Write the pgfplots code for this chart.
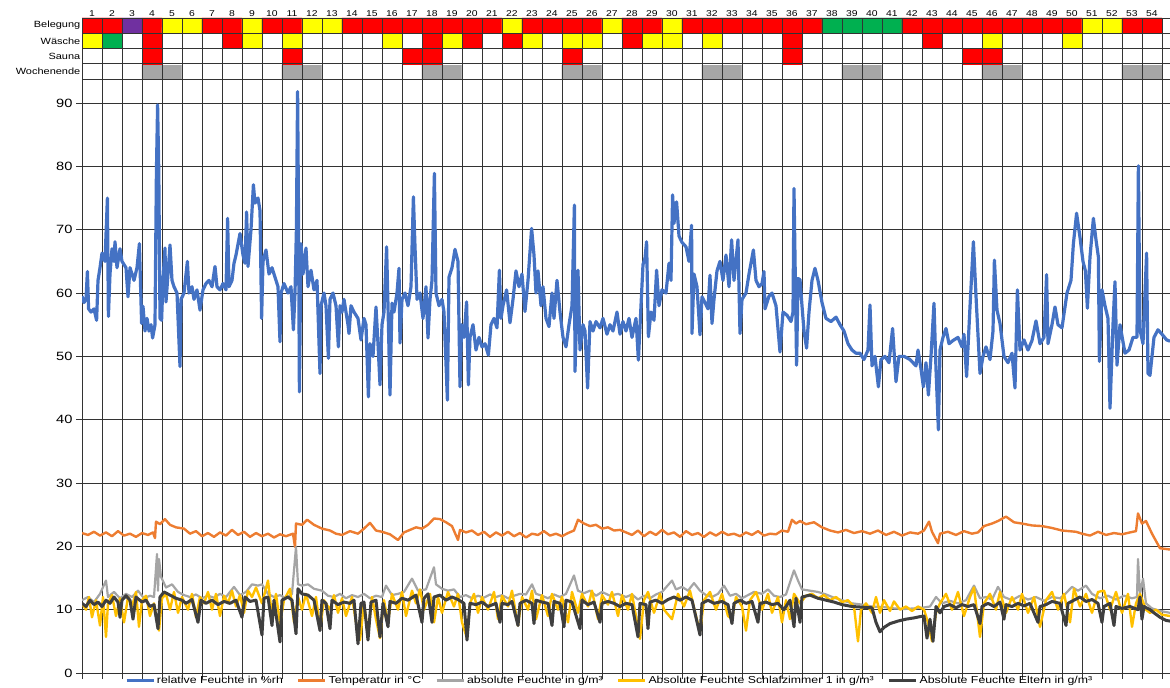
\documentclass[border=0pt]{standalone}
\usepackage{fontspec}
\setmainfont{Liberation Sans}[FakeStretch=1.22]
\usepackage{pgfplots}
\pgfplotsset{compat=1.18}

\definecolor{cBlue}{HTML}{4472C4}
\definecolor{cOrange}{HTML}{ED7D31}
\definecolor{cGrey}{HTML}{A5A5A5}
\definecolor{cYellow}{HTML}{FFC000}
\definecolor{cDark}{HTML}{3F3F3F}
\definecolor{gridc}{HTML}{333333}

\begin{document}
\begin{tikzpicture}
\path[use as bounding box] (0pt,0pt) rectangle (1170pt,688pt);

% ---------- status table ----------
% codes: 0 white, 1 red, 2 yellow, 3 green, 4 purple, 5 grey
\begin{axis}[
  at={(82pt,609pt)}, anchor=south west,
  width=1088pt, height=61pt, scale only axis,
  xmin=0, xmax=54.4, ymin=0, ymax=4,
  axis on top,
  colormap={status}{rgb255=(255,255,255) rgb255=(255,0,0) rgb255=(255,255,0) rgb255=(0,176,80) rgb255=(112,48,160) rgb255=(166,166,166)},
  colormap access=direct,
  xtick={0.5,1.5,...,53.5},
  xticklabel={\pgfmathparse{int(\tick+0.5)}\pgfmathresult},
  xticklabel pos=upper,
  minor xtick={0,1,...,54},
  ytick={0.5,1.5,2.5,3.5},
  yticklabels={Wochenende,Sauna,Wäsche,Belegung},
  minor ytick={0,1,2,3,4},
  xminorgrids, yminorgrids,
  minor grid style={gridc, line width=0.9pt},
  major tick length=0pt, minor tick length=0pt,
  axis line style={gridc, line width=0.9pt},
  x tick label style={font=\fontsize{8.5}{9}\selectfont, inner sep=1.5pt},
  y tick label style={font=\fontsize{9}{10}\selectfont, inner sep=1.5pt},
]
\addplot[matrix plot*, mesh/cols=54, point meta=explicit] table[row sep=\\, x=x, y=y, meta=c] {
x y c\\
0.5 0.5 0\\ 1.5 0.5 0\\ 2.5 0.5 0\\ 3.5 0.5 5\\ 4.5 0.5 5\\ 5.5 0.5 0\\ 6.5 0.5 0\\ 7.5 0.5 0\\ 8.5 0.5 0\\
9.5 0.5 0\\ 10.5 0.5 5\\ 11.5 0.5 5\\ 12.5 0.5 0\\ 13.5 0.5 0\\ 14.5 0.5 0\\ 15.5 0.5 0\\ 16.5 0.5 0\\ 17.5 0.5 5\\
18.5 0.5 5\\ 19.5 0.5 0\\ 20.5 0.5 0\\ 21.5 0.5 0\\ 22.5 0.5 0\\ 23.5 0.5 0\\ 24.5 0.5 5\\ 25.5 0.5 5\\ 26.5 0.5 0\\
27.5 0.5 0\\ 28.5 0.5 0\\ 29.5 0.5 0\\ 30.5 0.5 0\\ 31.5 0.5 5\\ 32.5 0.5 5\\ 33.5 0.5 0\\ 34.5 0.5 0\\ 35.5 0.5 0\\
36.5 0.5 0\\ 37.5 0.5 0\\ 38.5 0.5 5\\ 39.5 0.5 5\\ 40.5 0.5 0\\ 41.5 0.5 0\\ 42.5 0.5 0\\ 43.5 0.5 0\\ 44.5 0.5 0\\
45.5 0.5 5\\ 46.5 0.5 5\\ 47.5 0.5 0\\ 48.5 0.5 0\\ 49.5 0.5 0\\ 50.5 0.5 0\\ 51.5 0.5 0\\ 52.5 0.5 5\\ 53.5 0.5 5\\
0.5 1.5 0\\ 1.5 1.5 0\\ 2.5 1.5 0\\ 3.5 1.5 1\\ 4.5 1.5 0\\ 5.5 1.5 0\\ 6.5 1.5 0\\ 7.5 1.5 0\\ 8.5 1.5 0\\
9.5 1.5 0\\ 10.5 1.5 1\\ 11.5 1.5 0\\ 12.5 1.5 0\\ 13.5 1.5 0\\ 14.5 1.5 0\\ 15.5 1.5 0\\ 16.5 1.5 1\\ 17.5 1.5 1\\
18.5 1.5 0\\ 19.5 1.5 0\\ 20.5 1.5 0\\ 21.5 1.5 0\\ 22.5 1.5 0\\ 23.5 1.5 0\\ 24.5 1.5 1\\ 25.5 1.5 0\\ 26.5 1.5 0\\
27.5 1.5 0\\ 28.5 1.5 0\\ 29.5 1.5 0\\ 30.5 1.5 0\\ 31.5 1.5 0\\ 32.5 1.5 0\\ 33.5 1.5 0\\ 34.5 1.5 0\\ 35.5 1.5 1\\
36.5 1.5 0\\ 37.5 1.5 0\\ 38.5 1.5 0\\ 39.5 1.5 0\\ 40.5 1.5 0\\ 41.5 1.5 0\\ 42.5 1.5 0\\ 43.5 1.5 0\\ 44.5 1.5 1\\
45.5 1.5 1\\ 46.5 1.5 0\\ 47.5 1.5 0\\ 48.5 1.5 0\\ 49.5 1.5 0\\ 50.5 1.5 0\\ 51.5 1.5 0\\ 52.5 1.5 0\\ 53.5 1.5 0\\
0.5 2.5 2\\ 1.5 2.5 3\\ 2.5 2.5 0\\ 3.5 2.5 1\\ 4.5 2.5 0\\ 5.5 2.5 0\\ 6.5 2.5 0\\ 7.5 2.5 1\\ 8.5 2.5 2\\
9.5 2.5 0\\ 10.5 2.5 2\\ 11.5 2.5 0\\ 12.5 2.5 0\\ 13.5 2.5 0\\ 14.5 2.5 0\\ 15.5 2.5 2\\ 16.5 2.5 0\\ 17.5 2.5 1\\
18.5 2.5 2\\ 19.5 2.5 1\\ 20.5 2.5 0\\ 21.5 2.5 1\\ 22.5 2.5 2\\ 23.5 2.5 0\\ 24.5 2.5 2\\ 25.5 2.5 2\\ 26.5 2.5 0\\
27.5 2.5 1\\ 28.5 2.5 2\\ 29.5 2.5 2\\ 30.5 2.5 0\\ 31.5 2.5 2\\ 32.5 2.5 0\\ 33.5 2.5 0\\ 34.5 2.5 0\\ 35.5 2.5 1\\
36.5 2.5 0\\ 37.5 2.5 0\\ 38.5 2.5 0\\ 39.5 2.5 0\\ 40.5 2.5 0\\ 41.5 2.5 0\\ 42.5 2.5 1\\ 43.5 2.5 0\\ 44.5 2.5 0\\
45.5 2.5 2\\ 46.5 2.5 0\\ 47.5 2.5 0\\ 48.5 2.5 0\\ 49.5 2.5 2\\ 50.5 2.5 0\\ 51.5 2.5 0\\ 52.5 2.5 0\\ 53.5 2.5 0\\
0.5 3.5 1\\ 1.5 3.5 1\\ 2.5 3.5 4\\ 3.5 3.5 1\\ 4.5 3.5 2\\ 5.5 3.5 2\\ 6.5 3.5 1\\ 7.5 3.5 1\\ 8.5 3.5 2\\
9.5 3.5 1\\ 10.5 3.5 1\\ 11.5 3.5 2\\ 12.5 3.5 2\\ 13.5 3.5 1\\ 14.5 3.5 1\\ 15.5 3.5 1\\ 16.5 3.5 1\\ 17.5 3.5 1\\
18.5 3.5 1\\ 19.5 3.5 1\\ 20.5 3.5 1\\ 21.5 3.5 2\\ 22.5 3.5 1\\ 23.5 3.5 1\\ 24.5 3.5 1\\ 25.5 3.5 1\\ 26.5 3.5 2\\
27.5 3.5 1\\ 28.5 3.5 1\\ 29.5 3.5 2\\ 30.5 3.5 1\\ 31.5 3.5 1\\ 32.5 3.5 1\\ 33.5 3.5 1\\ 34.5 3.5 1\\ 35.5 3.5 1\\
36.5 3.5 1\\ 37.5 3.5 3\\ 38.5 3.5 3\\ 39.5 3.5 3\\ 40.5 3.5 3\\ 41.5 3.5 1\\ 42.5 3.5 1\\ 43.5 3.5 1\\ 44.5 3.5 1\\
45.5 3.5 1\\ 46.5 3.5 1\\ 47.5 3.5 1\\ 48.5 3.5 1\\ 49.5 3.5 1\\ 50.5 3.5 2\\ 51.5 3.5 2\\ 52.5 3.5 1\\ 53.5 3.5 1\\
};
\end{axis}

% ---------- main chart ----------
\begin{axis}[
  at={(82pt,15pt)}, anchor=south west,
  width=1088pt, height=594pt, scale only axis,
  xmin=0, xmax=54.4, ymin=0, ymax=93.8,
  axis x line*=bottom, axis y line*=left,
  axis line style={gridc, line width=0.9pt},
  xtick={0,1,...,54}, xticklabels={},
  ytick={0,10,...,90},
  grid=major, major grid style={gridc, line width=0.9pt},
  tick align=outside, major tick length=6pt,
  tick style={gridc, line width=0.9pt},
  /pgf/number format/assume math mode=true,
  y tick label style={font=\fontsize{12}{12}\selectfont},
  legend columns=5,
  legend style={at={(0.485,0)}, anchor=north, yshift=-1pt, draw=none, fill=none,
    font=\fontsize{10.1}{11}\selectfont, inner sep=0pt,
    /tikz/every even column/.append style={column sep=12pt}},
  legend image code/.code={\draw[#1, line width=2.8pt] (0pt,0pt) -- (27pt,0pt);},
  line join=round,
]
% relative humidity
\addplot[cBlue, line width=3.2pt] coordinates {
(0,59.5) (0.1,58.5) (0.2,59) (0.27,63.4) (0.33,57.5) (0.45,57) (0.6,57.5) (0.73,55.7) (0.8,62) (0.9,64) (1.0,66.3) (1.15,65) (1.27,75) (1.32,56.3) (1.4,63) (1.5,67) (1.6,65) (1.65,68.1) (1.75,64) (1.9,67) (2.0,65) (2.2,64) (2.3,59.4) (2.4,64) (2.5,63) (2.6,62) (2.75,64) (2.87,67.8) (2.98,55.2) (3.05,57.9) (3.15,54) (3.25,56) (3.35,54) (3.45,55) (3.53,52.9) (3.65,55) (3.72,78.9) (3.78,89.7) (3.84,79) (3.9,56) (3.98,55.7) (4.05,62) (4.15,67.1) (4.2,58.6) (4.3,63) (4.4,67.6) (4.5,62) (4.6,61) (4.75,60) (4.9,48.4) (4.95,59) (5.1,60) (5.27,65) (5.35,60) (5.5,61) (5.6,59) (5.75,60.5) (5.9,57.3) (6.05,60.5) (6.2,61.5) (6.35,62) (6.5,61) (6.65,64.2) (6.75,61) (6.9,60.5) (7.05,61.5) (7.2,60.5) (7.28,71.8) (7.35,61) (7.5,62) (7.6,64.7) (7.7,66) (7.9,69.4) (8.05,66) (8.15,64.7) (8.23,72.8) (8.3,64.2) (8.45,70) (8.57,77.1) (8.65,74.2) (8.8,75) (8.9,73) (8.98,56) (9.05,65) (9.2,66.8) (9.35,63) (9.5,64) (9.65,62.5) (9.8,61) (9.9,52.3) (9.95,60) (10.1,61.5) (10.3,60) (10.45,61) (10.57,54.2) (10.65,60) (10.72,70) (10.78,91.8) (10.82,75) (10.87,44.4) (10.95,67.8) (11.05,63) (11.2,67.1) (11.3,61) (11.45,63.6) (11.6,60.5) (11.75,62) (11.9,47.3) (11.95,58) (12.1,60) (12.2,58) (12.32,49.7) (12.4,59) (12.55,60) (12.7,58) (12.82,51.5) (12.9,58) (13.0,57) (13.1,59) (13.3,55) (13.35,53.6) (13.45,58) (13.6,57) (13.8,56) (13.95,52.6) (14.1,56) (14.2,55) (14.32,43.6) (14.4,52) (14.55,50) (14.7,57.8) (14.8,52) (14.9,45.5) (15.0,55) (15.1,57) (15.23,67.3) (15.3,58) (15.4,43.9) (15.5,58.4) (15.6,57) (15.75,60) (15.85,63.9) (15.9,52.1) (16.0,59) (16.15,60) (16.3,58) (16.45,61) (16.57,75.2) (16.65,67.3) (16.75,59) (16.9,60) (17.05,56) (17.2,61) (17.3,52.9) (17.4,59) (17.5,62) (17.62,78.9) (17.7,60) (17.85,58) (18.0,59) (18.1,57) (18.27,43.1) (18.35,62.5) (18.5,64) (18.65,66.9) (18.8,65) (18.9,45.2) (18.98,55) (19.1,53) (19.23,58.6) (19.32,45.5) (19.4,53) (19.55,55) (19.7,51) (19.85,53) (20.0,51.5) (20.15,52) (20.32,50.2) (20.45,55) (20.6,56) (20.75,54.5) (20.87,63.6) (20.95,56) (21.05,58) (21.23,60.5) (21.4,55.3) (21.55,59) (21.7,63.5) (21.85,61) (22.0,63) (22.15,57.1) (22.3,62) (22.48,70.2) (22.6,66) (22.7,60) (22.8,63.5) (22.95,58) (23.05,61) (23.2,56) (23.35,54.7) (23.5,60) (23.6,56) (23.75,62) (23.9,57) (24.05,53) (24.2,51.5) (24.35,55) (24.5,58) (24.62,73.9) (24.65,47.6) (24.8,63.6) (24.9,51) (25.05,55) (25.15,54) (25.28,45) (25.4,55.5) (25.55,54) (25.7,55.5) (25.9,54.5) (26.05,56) (26.25,53.5) (26.4,55) (26.55,54) (26.75,57) (26.9,53.5) (27.05,55.5) (27.2,54) (27.35,56) (27.5,53) (27.7,56) (27.82,49.4) (27.95,58) (28.05,64.5) (28.15,65.5) (28.23,68.1) (28.32,53.1) (28.45,57) (28.6,55.7) (28.73,63.6) (28.85,58) (29.0,60.5) (29.2,60) (29.35,64.7) (29.45,62) (29.53,75.5) (29.6,71) (29.73,74.4) (29.85,69) (30.0,68) (30.2,67.3) (30.35,65) (30.48,70.7) (30.5,53.6) (30.6,63) (30.75,61) (30.9,53.4) (31.0,59.4) (31.15,58.5) (31.3,57.5) (31.4,62.8) (31.5,55.2) (31.6,59) (31.75,63.5) (31.9,65) (32.05,62) (32.2,66) (32.35,61) (32.48,68.4) (32.6,62) (32.8,68.4) (32.9,53.6) (33.0,59) (33.2,60) (33.35,63) (33.57,66.8) (33.7,62) (33.85,61) (34.0,61.5) (34.1,63.4) (34.15,57.5) (34.35,59.5) (34.5,60) (34.7,58) (34.9,50.7) (35.05,57) (35.25,56.5) (35.45,55.5) (35.55,57) (35.6,76.5) (35.73,48.6) (35.8,62.3) (35.9,62.1) (36.0,58) (36.1,54) (36.23,51.3) (36.35,57) (36.5,62) (36.65,63.9) (36.8,62) (37.0,58.5) (37.2,56) (37.45,55.5) (37.7,56.2) (37.9,55) (38.1,54) (38.3,52) (38.5,51) (38.7,50.5) (38.9,50.5) (39.1,49.5) (39.3,51) (39.4,58.1) (39.5,48.5) (39.65,50) (39.82,45.2) (39.95,49.5) (40.15,50) (40.35,49) (40.53,54.4) (40.7,46) (40.85,50) (41.1,50) (41.4,49.5) (41.7,48.5) (41.8,51) (41.95,48) (42.07,45.2) (42.2,49) (42.32,43.9) (42.45,50) (42.6,58.4) (42.7,48) (42.82,38.4) (42.9,51) (43.05,53) (43.2,54.4) (43.35,52) (43.55,52.5) (43.8,53) (44.0,51.5) (44.1,53.5) (44.23,46.8) (44.4,57.8) (44.57,68.1) (44.72,58.3) (44.9,47.3) (45.05,50) (45.2,51.5) (45.4,49.5) (45.55,54) (45.62,65.2) (45.75,57.3) (45.9,55.2) (46.1,50) (46.3,49) (46.5,50.5) (46.65,45) (46.77,60.5) (46.9,51) (47.1,52.6) (47.3,51) (47.5,52.5) (47.7,55.6) (47.9,52) (48.1,53) (48.23,62.9) (48.3,52) (48.5,55) (48.65,57.8) (48.8,55) (49.0,54.5) (49.25,60) (49.45,62) (49.57,67.8) (49.73,72.6) (49.9,68.8) (50.05,65) (50.17,63.5) (50.27,57.6) (50.4,65.7) (50.57,71.8) (50.7,68.4) (50.82,65.7) (50.87,49.2) (51.0,60.5) (51.15,58) (51.3,56) (51.4,41.8) (51.55,55) (51.65,61.8) (51.75,48.6) (51.9,55) (52.15,50.5) (52.35,51) (52.55,53) (52.75,53) (52.82,80.1) (52.9,54.2) (53.05,52) (53.23,66.3) (53.3,47.3) (53.4,47) (53.6,53) (53.8,54.2) (54.0,53.5) (54.23,52.6) (54.4,52.4)
};
\addlegendentry{relative Feuchte in \%rh}
% temperature
\addplot[cOrange, line width=2.4pt] coordinates {
(0,22.1) (0.3,21.8) (0.6,22.3) (0.9,21.7) (1.2,22.2) (1.5,21.6) (1.8,22.4) (2.1,21.7) (2.4,22) (2.7,21.5) (3.0,22.1) (3.3,21.8) (3.55,22.2) (3.65,21.3) (3.7,23.9) (3.9,23.5) (4.15,24.3) (4.4,23.4) (4.7,23) (5.1,22.8) (5.4,22) (5.7,22.4) (6.0,21.6) (6.3,22.1) (6.6,21.5) (6.9,22.2) (7.2,21.7) (7.5,22.6) (7.8,21.8) (8.1,22.3) (8.4,21.5) (8.7,22.1) (9.0,21.6) (9.3,22) (9.6,21.4) (9.9,21.9) (10.2,21.6) (10.55,22) (10.65,19.9) (10.7,23.6) (11.0,23.4) (11.26,24.2) (11.6,23.4) (12.0,22.8) (12.4,22.5) (12.7,22) (13.0,21.8) (13.4,22.4) (13.8,22) (14.1,22.8) (14.4,23.7) (14.7,22.5) (15.0,22.3) (15.4,21.9) (15.8,21) (16.1,22.2) (16.4,22.6) (16.7,23) (17.0,22.8) (17.3,23.4) (17.6,24.4) (17.9,24.3) (18.2,23.8) (18.5,23.2) (18.8,21) (18.9,22.6) (19.2,22.2) (19.5,22.5) (19.8,21.8) (20.1,22.3) (20.4,21.5) (20.7,22.2) (21.0,21.7) (21.3,22.3) (21.6,21.6) (21.9,22.1) (22.2,21.4) (22.5,22) (22.8,21.8) (23.1,22.4) (23.4,21.7) (23.7,22) (24.0,21.6) (24.3,22.1) (24.6,22.5) (24.8,24.2) (25.1,23.6) (25.4,23.2) (25.7,23.4) (26.0,22.8) (26.3,23) (26.6,22.5) (26.9,22.6) (27.2,22.2) (27.5,21.8) (27.8,22.5) (28.1,21.6) (28.4,22.3) (28.7,21.8) (29.0,22.6) (29.3,21.9) (29.6,22.2) (29.9,21.5) (30.2,22.4) (30.5,21.8) (30.8,22.1) (31.1,21.5) (31.4,22.2) (31.7,21.7) (32.0,22.3) (32.3,21.8) (32.6,22) (32.9,21.6) (33.2,22.2) (33.5,21.8) (33.8,22.4) (34.1,21.7) (34.4,22) (34.7,21.9) (35.0,22.5) (35.3,22.3) (35.5,24.2) (35.7,23.6) (35.9,24) (36.2,23.5) (36.6,23.8) (37.0,23) (37.4,22.5) (37.8,22.2) (38.2,22.6) (38.6,22.1) (39.0,22.4) (39.4,22) (39.8,22.5) (40.2,21.8) (40.6,22.3) (41.0,21.7) (41.4,22.2) (41.8,22) (42.1,22.5) (42.35,23.9) (42.5,22.3) (42.8,20.5) (42.9,22) (43.3,22.3) (43.7,21.8) (44.1,22.4) (44.5,22) (44.8,22.2) (45.1,23.2) (45.5,23.6) (45.8,24) (46.2,24.7) (46.6,23.8) (47.0,23.6) (47.5,23.3) (48.0,23.2) (48.5,22.9) (49.0,22.5) (49.7,22.3) (50.0,22) (50.4,21.7) (50.8,22.3) (51.2,21.8) (51.6,22.1) (52.0,21.9) (52.4,22.2) (52.7,22.4) (52.8,25.2) (53.0,23.6) (53.2,24) (53.5,22) (53.9,19.7) (54.4,19.5)
};
\addlegendentry{Temperatur in °C}
% absolute humidity
\addplot[cGrey, line width=2.2pt] coordinates {
(0,11.5) (0.3,12) (0.6,11.2) (0.9,12.5) (1.2,14.6) (1.3,12) (1.6,12.8) (1.9,11.8) (2.2,12.5) (2.5,12) (2.8,13) (3.1,11.8) (3.4,12.2) (3.6,12) (3.75,18.8) (3.8,13) (3.85,18) (3.95,15.2) (4.2,13.5) (4.5,14) (4.8,12.8) (5.1,12.3) (5.4,12) (5.7,12.4) (6.0,11.8) (6.3,12.2) (6.6,11.9) (6.9,12.5) (7.2,12) (7.6,13.6) (7.9,12.3) (8.2,12.8) (8.5,14) (8.8,13.8) (9.0,14) (9.3,12.5) (9.6,12) (9.9,12.3) (10.2,11.8) (10.5,12.5) (10.7,19.9) (10.8,14) (11.0,13.8) (11.3,14) (11.6,13.3) (12.0,13) (12.3,12.2) (12.6,12) (12.9,12.5) (13.2,11.8) (13.5,12.3) (13.8,12) (14.1,12.5) (14.4,11.8) (14.7,12.2) (15.0,12) (15.2,13.8) (15.5,12.3) (15.8,12.5) (16.1,12.8) (16.5,14.9) (16.8,13) (17.2,13.2) (17.6,16.7) (17.7,14) (18.0,13.3) (18.3,13) (18.6,13.2) (18.9,12) (19.2,12.3) (19.5,11.8) (19.8,12.2) (20.1,11.9) (20.4,12.4) (20.7,12) (21.0,12.3) (21.3,11.8) (21.6,12.2) (21.9,12.5) (22.2,12.4) (22.5,14) (22.7,12.5) (23.0,12.2) (23.3,11.8) (23.6,12.4) (23.9,12) (24.2,12.5) (24.6,15.4) (24.8,13) (25.1,12.6) (25.4,13) (25.7,12.2) (26.0,12.8) (26.4,12.2) (26.8,12.5) (27.2,12) (27.5,12.4) (27.8,11.6) (28.1,12.2) (28.4,11.8) (28.7,12.4) (29.0,12.8) (29.5,14.6) (29.7,13.2) (30.0,13.6) (30.3,13) (30.6,14.2) (30.9,13) (31.2,12.3) (31.5,12) (31.8,12.5) (32.1,13.8) (32.4,12.2) (32.7,12.5) (33.0,11.8) (33.3,12.3) (33.6,12.8) (34.0,12.5) (34.3,13.2) (34.6,12.2) (34.9,12) (35.2,12.4) (35.6,16.2) (35.8,14.6) (36.0,13.2) (36.4,13) (36.8,12.8) (37.2,12.4) (37.6,11.9) (38.0,11.5) (38.5,11) (39.0,10.8) (39.5,10.5) (40.1,10.4) (40.6,10.2) (41.1,10.1) (41.6,10.2) (42.0,10.3) (42.4,10.5) (42.7,12) (43.0,11) (43.4,11.4) (43.8,11) (44.2,11.5) (44.6,13.8) (44.9,11.8) (45.2,12) (45.5,11.6) (45.8,13.6) (46.1,12) (46.5,11.5) (46.9,12.2) (47.3,11.6) (47.7,12) (48.1,11.4) (48.5,12) (48.9,11.8) (49.2,12.6) (49.5,13.6) (49.8,13) (50.2,13.8) (50.5,12.5) (50.9,11.8) (51.3,12.2) (51.7,11.6) (52.1,12.2) (52.5,11.8) (52.75,12) (52.8,18) (52.9,12.5) (53.05,14.9) (53.2,11) (53.5,10.2) (53.9,9.8) (54.4,9.5)
};
\addlegendentry{absolute Feuchte in g/m³}
% bedroom 1
\addplot[cYellow, line width=2.4pt] coordinates {
(0,11) (0.2,10) (0.35,12) (0.5,8.8) (0.7,11.5) (0.9,7.5) (1.05,12) (1.2,5.7) (1.3,11) (1.5,12.3) (1.7,9) (1.9,11.8) (2.1,8) (2.3,12) (2.5,10.5) (2.7,12.8) (2.85,7.3) (3.0,11.5) (3.2,12.2) (3.4,9) (3.6,11) (3.85,6.7) (4.0,11.8) (4.2,12.5) (4.4,10) (4.6,12.8) (4.8,9.5) (5.0,12) (5.3,10) (5.5,12.5) (5.7,8.8) (5.9,12) (6.1,11) (6.3,12.8) (6.5,10) (6.7,12.5) (6.9,9) (7.1,12.2) (7.3,11) (7.5,13) (7.7,10.5) (7.9,12.3) (8.1,9.5) (8.3,13) (8.5,12) (8.7,13.5) (9.0,11) (9.3,14.6) (9.5,9) (9.7,12.5) (9.9,7.8) (10.1,11.5) (10.4,13.3) (10.6,8) (10.8,12) (11.0,10) (11.2,12.5) (11.5,9) (11.7,12) (11.9,7) (12.1,11.5) (12.4,10) (12.6,12.3) (12.8,9.5) (13.0,11.8) (13.2,9) (13.5,12) (13.7,8) (13.9,5.2) (14.1,11) (14.3,6) (14.5,12) (14.7,8.5) (14.9,5.5) (15.1,11.5) (15.3,8) (15.5,12.5) (15.8,10) (16.0,12.8) (16.2,9) (16.5,13) (16.7,11) (16.9,13.2) (17.1,10) (17.4,12.5) (17.6,8) (17.8,12) (18.0,9.5) (18.3,12.8) (18.6,10.5) (18.8,12.5) (19.0,8) (19.25,5.5) (19.4,11) (19.6,12.5) (19.8,9.5) (20.0,12) (20.3,10) (20.6,12.8) (20.8,8.5) (21.0,12.2) (21.3,10.5) (21.5,13) (21.8,7.5) (22.0,12) (22.3,10) (22.5,13) (22.7,8.5) (23.0,12.3) (23.3,9) (23.5,12.5) (23.8,10) (24.0,12) (24.3,8) (24.5,12.8) (24.8,9.5) (25.0,12.5) (25.3,10.5) (25.5,13) (25.8,8.5) (26.0,12.3) (26.3,10.8) (26.5,12.8) (26.8,9) (27.0,12.3) (27.3,10) (27.5,12.5) (27.9,5.4) (28.1,11.5) (28.3,12.8) (28.6,9.5) (28.9,12.5) (29.1,10) (29.5,8.5) (29.8,12.5) (30.1,10.5) (30.4,13) (30.7,9) (30.9,6.5) (31.1,11.5) (31.4,12.8) (31.7,10) (32.0,12.5) (32.3,9) (32.5,8.5) (32.7,12) (33.0,10.5) (33.2,6.7) (33.4,11.5) (33.7,12.8) (34.0,10) (34.3,12.5) (34.5,9.5) (34.8,12) (35.0,8) (35.2,11.5) (35.4,8.5) (35.6,12.5) (35.9,11) (36.2,12.2) (36.5,12.5) (36.8,11.8) (37.1,12.3) (37.4,11.5) (37.7,12) (38.0,11.2) (38.3,11.5) (38.6,10.5) (38.8,5) (38.95,10) (39.2,11) (39.5,9.5) (39.7,12) (39.9,9.5) (40.1,11.5) (40.4,9.8) (40.6,11.3) (40.9,10) (41.2,10.5) (41.5,9.8) (41.8,10.5) (42.1,10) (42.3,8) (42.5,5) (42.7,9.5) (42.9,11) (43.2,12.5) (43.5,10) (43.8,12.8) (44.1,9) (44.4,12) (44.6,13.5) (44.9,5.7) (45.1,11) (45.4,12.5) (45.7,10) (45.9,12.8) (46.2,9.5) (46.5,12) (46.8,10) (47.0,12.5) (47.3,9.5) (47.6,12) (47.9,7.3) (48.2,11.5) (48.5,12.8) (48.8,10) (49.1,12.5) (49.4,8) (49.6,13.3) (49.9,10.5) (50.2,12.5) (50.5,9.5) (50.8,12.8) (51.1,13) (51.4,10) (51.7,12.8) (52.0,9.5) (52.3,12.5) (52.5,7.3) (52.7,11) (52.9,12.5) (53.2,10) (53.4,9.5) (53.7,10) (54.0,9.2) (54.4,9)
};
\addlegendentry{Absolute Feuchte Schlafzimmer 1 in g/m³}
% parents
\addplot[cDark, line width=3pt] coordinates {
(0,11) (0.2,10.5) (0.4,11.5) (0.6,10.8) (0.8,11.2) (1.0,10.5) (1.2,11.5) (1.4,11) (1.6,12) (1.8,11.2) (1.9,8.8) (2.0,11.5) (2.2,12.2) (2.4,11.5) (2.55,8.5) (2.7,12) (3.0,11.2) (3.2,11.5) (3.4,10.5) (3.6,10.8) (3.8,7) (3.9,12) (4.1,12.8) (4.4,12.3) (4.7,11.8) (5.0,11.5) (5.2,11) (5.5,11.6) (5.8,8) (5.95,11.5) (6.2,11) (6.5,11.5) (6.8,10.8) (7.1,11.3) (7.4,11) (7.7,11.5) (8.0,8.8) (8.15,12) (8.4,11.3) (8.7,11.5) (9.0,6) (9.1,11.8) (9.3,12) (9.5,7.5) (9.6,11.5) (9.9,4.9) (10.0,11.5) (10.3,12) (10.5,11.5) (10.7,6.2) (10.8,13.3) (11.0,12.5) (11.3,12.3) (11.6,11.5) (11.9,6.7) (12.0,11.5) (12.2,11) (12.4,7) (12.5,11.5) (12.8,10.8) (13.1,11.2) (13.4,11) (13.6,11.5) (13.8,4.6) (13.95,11) (14.1,11.2) (14.3,5.2) (14.45,11.2) (14.7,11.5) (14.9,5.7) (15.05,11) (15.3,7.3) (15.4,11.3) (15.7,11) (16.0,11.8) (16.3,11.5) (16.7,12.3) (17.0,8) (17.1,11.8) (17.3,12.5) (17.5,8) (17.6,12) (17.9,12.3) (18.2,11.5) (18.5,12) (18.8,11.6) (19.1,11) (19.25,5.2) (19.4,11) (19.7,10.8) (20.0,11.2) (20.3,10.5) (20.7,11) (20.9,8) (21.0,11) (21.3,10.8) (21.5,11.3) (21.8,7.5) (21.9,11) (22.2,11.5) (22.5,11) (22.6,7.8) (22.7,11.5) (23.0,11.2) (23.3,11) (23.5,7.5) (23.6,11.3) (23.9,11) (24.1,7.3) (24.2,11.5) (24.5,11.2) (24.9,7) (25.0,11.5) (25.3,10.8) (25.6,11.2) (25.9,8) (26.0,11) (26.3,11.3) (26.6,11) (26.9,10.5) (27.2,11) (27.5,10.8) (27.8,5.7) (27.9,11) (28.2,10.8) (28.3,7) (28.4,11.2) (28.7,11.5) (29.0,11) (29.3,11.6) (29.6,12) (29.9,11.5) (30.2,12) (30.5,11.5) (30.9,6) (31.0,11) (31.3,11.5) (31.6,11) (32.0,11.3) (32.3,10.8) (32.5,7.8) (32.6,11) (32.9,11.5) (33.2,11) (33.5,11.3) (33.8,8) (33.9,11) (34.2,11.2) (34.5,10.8) (34.8,11) (35.1,10) (35.4,11.5) (35.6,7.3) (35.7,11.8) (35.9,8) (36.0,12) (36.4,12.3) (36.8,11.8) (37.2,11.5) (37.6,11.2) (38.0,10.8) (38.5,10.5) (39.0,10.4) (39.5,10.3) (39.7,8) (39.9,6.5) (40.1,7.2) (40.4,7.8) (40.8,8.2) (41.2,8.5) (41.6,8.7) (41.9,8.9) (42.1,9) (42.25,5.5) (42.4,8.5) (42.55,5) (42.7,10.5) (42.9,9.5) (43.1,10.5) (43.4,10.8) (43.7,10.3) (44.0,10.8) (44.3,10.5) (44.6,10.8) (44.9,7.8) (45.0,10.5) (45.3,11) (45.6,10.5) (45.9,11.2) (46.1,8.5) (46.2,10.8) (46.5,10.5) (46.8,11) (47.1,10.6) (47.4,11) (47.8,8) (47.9,10.5) (48.2,10.8) (48.5,11.3) (48.9,11) (49.2,7.5) (49.3,11) (49.6,11.5) (49.9,12) (50.2,11.3) (50.5,11.6) (50.8,11) (51.0,8) (51.1,10.5) (51.4,11) (51.6,7.5) (51.7,10.5) (52.0,10.2) (52.4,10.5) (52.8,10) (52.9,12) (53.0,8.5) (53.1,10.5) (53.4,10) (53.6,9.5) (53.9,8.8) (54.2,8.3) (54.4,8.2)
};
\addlegendentry{Absolute Feuchte Eltern in g/m³}
\end{axis}
\end{tikzpicture}
\end{document}
